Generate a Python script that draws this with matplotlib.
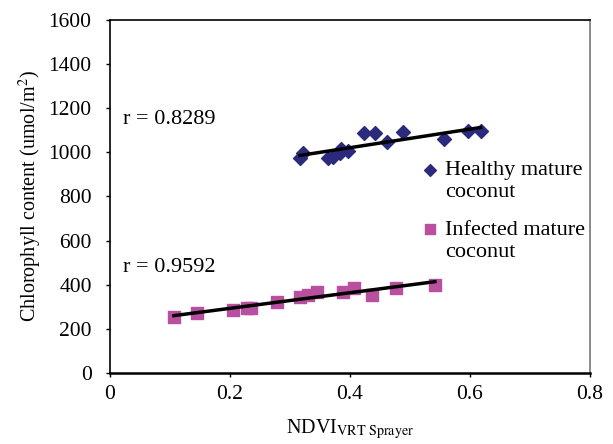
import numpy as np
import matplotlib
matplotlib.use("Agg")
import matplotlib.pyplot as plt

plt.rcParams['font.family'] = ['Liberation Serif', 'DejaVu Serif']
plt.rcParams['mathtext.fontset'] = 'stix'

# healthy mature coconut
healthy_ndvi = [0.317, 0.322, 0.363, 0.372, 0.383, 0.385, 0.397, 0.423, 0.442,
                0.462, 0.488, 0.557, 0.597, 0.618]
healthy_chl = [975, 997, 975, 980, 997, 1015, 1005, 1088, 1088,
               1047, 1092, 1061, 1097, 1097]

# infected mature coconut
infected_ndvi = [0.107, 0.145, 0.205, 0.228, 0.235, 0.278, 0.317, 0.330, 0.345,
                 0.388, 0.407, 0.437, 0.477, 0.542]
infected_chl = [254, 272, 286, 295, 295, 322, 344, 354, 367,
                367, 385, 354, 385, 399]

r_healthy = "r = 0.8289"
r_infected = "r = 0.9592"

fig = plt.figure(figsize=(6.13, 4.44), dpi=100)
ax = fig.add_axes([0.179, 0.160, 0.783, 0.795])

ax.scatter(healthy_ndvi, healthy_chl, marker='D', s=50, color='#2B2A7C',
           label='Healthy mature\ncoconut', zorder=3)
ax.scatter(infected_ndvi, infected_chl, marker='s', s=75, color='#B8509F',
           label='Infected mature\ncoconut', zorder=3)

# linear trendlines
for xs, ys in [(healthy_ndvi, healthy_chl), (infected_ndvi, infected_chl)]:
    xs = np.array(xs)
    m, c = np.polyfit(xs, ys, 1)
    xx = np.array([xs.min(), xs.max()])
    ax.plot(xx, m*xx + c, color='black', linewidth=2.5, zorder=4)

ax.text(0.022, 1147, r_healthy, fontsize=16, va='center')
ax.text(0.022, 476, r_infected, fontsize=16, va='center')

ax.set_xlim(0, 0.8)
ax.set_ylim(0, 1600)
ax.set_xticks([0, 0.2, 0.4, 0.6, 0.8])
ax.set_xticklabels(['0', '0.2', '0.4', '0.6', '0.8'])
ax.set_yticks(range(0, 1601, 200))
ax.tick_params(labelsize=15.5, direction='out', length=3, width=1, colors='black')
ax.tick_params(axis='y', pad=10)
ax.tick_params(axis='x', pad=6)

ax.spines['left'].set_linewidth(1.2)
ax.spines['bottom'].set_linewidth(1.8)
ax.spines['top'].set_linewidth(1.2)
ax.spines['right'].set_color('#777777')
ax.spines['right'].set_linewidth(1.2)

ax.set_xlabel(r'NDVI$_{\mathrm{VRT\ Sprayer}}$', fontsize=14.5, labelpad=9)
ax.set_ylabel('Chlorophyll content (umol/m$^2$)', fontsize=14.5, labelpad=3)

leg = ax.legend(loc='upper left', bbox_to_anchor=(0.62, 0.625), frameon=False,
                fontsize=16, handletextpad=0.1, labelspacing=0.85,
                handlelength=1.2, borderaxespad=0, markerscale=0.85)
# put the legend markers next to the first line of each label
for h in leg.legend_handles:
    h.set_offsets(h.get_offsets() + np.array([0, 9.5]))

fig.savefig('out.png', dpi=100)
